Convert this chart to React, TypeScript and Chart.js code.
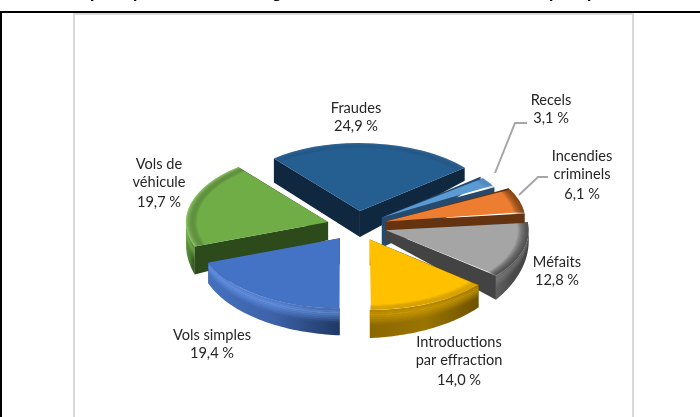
import { useEffect, useRef } from "react";
import { Chart, registerables } from "chart.js";

Chart.register(...registerables);

// Values, clockwise from the bottom of the pie
const categories = ["Vols simples", "Vols de véhicule", "Fraudes", "Recels", "Incendies criminels", "Méfaits", "Introductions par effraction"];
const shares = [19.4, 19.7, 24.9, 3.1, 6.1, 12.8, 14.0];
const shareLabels = ["19,4 %", "19,7 %", "24,9 %", "3,1 %", "6,1 %", "12,8 %", "14,0 %"];
const labelLines = [["Vols simples"], ["Vols de", "véhicule"], ["Fraudes"], ["Recels"], ["Incendies", "criminels"], ["Méfaits"], ["Introductions", "par effraction"]];

// Only the descenders of the cropped title survive in the picture
const titleGlyphs = ["p", "p", "g", "p", "p"];
const titleGlyphX = [95, 138, 277, 554, 592];

// Styles
const topColors = ["#4472C4", "#70AD47", "#255E91", "#5B9BD5", "#ED7D31", "#A5A5A5", "#FFC000"];
const sideColors = ["#1f3864", "#2d4a1b", "#10283f", "#254a6e", "#65330f", "#434343", "#6e5300"];
const bandStops = [
  ["#4470bd", "#3d62a8", "#1f3864"],
  ["#5f9440", "#4a7a30", "#2d4a1b"],
  ["#10283f", "#10283f", "#10283f"],
  ["#254a6e", "#254a6e", "#254a6e"],
  ["#8a4a1b", "#7a3f15", "#65330f"],
  ["#5f5f5f", "#4a4a4a", "#434343"],
  ["#8a6800", "#9a7400", "#6e5300"],
];
const bandHighlights = ["#6d9bee", "#84c05a", "#1b4468", "#3b6a96", "#a8581f", "#7d7d7d", "#d9a300"];
const rimColors = ["rgba(68,114,196,0)", "rgba(150,205,110,0.8)", "rgba(70,120,170,0.35)", "rgba(60,110,160,0.3)", "rgba(110,55,15,0.8)", "rgba(70,70,70,0.9)", "rgba(190,140,0,0.45)"];
// The source's perspective makes near slices look larger than far ones
const sliceRadii = [140, 142, 136, 128, 140, 143, 141];
// Wall height at the arc's start, at the vertex, at the arc's end
const wallDepths = [
  [27, 26, 21],
  [28, 18, 10],
  [24, 26, 13],
  [5, 30, 8],
  [6, 12, 12],
  [8, 10, 24],
  [23, 26, 28],
];
// Label centres (x, first line y) by category
const labelAnchors = [[212, 335], [159, 164], [356, 108], [551, 100], [582, 156], [557, 262], [459, 342]];
const leaderLines = [
  [[495, 173], [515, 123], [527, 123]],
  [[519, 195], [538, 177], [548, 177]],
];

const BASE_RADIUS = 135;
const EXPLODE = 30;
const FLATTEN = 0.5;
const CENTER_X = 357;
const CENTER_Y = 226;

const geometry = (arc: any) => {
  const p = arc.getProps(["x", "y", "startAngle", "endAngle"], true);
  const mid = (p.startAngle + p.endAngle) / 2;
  const vx = p.x + Math.cos(mid) * EXPLODE;
  const vy = CENTER_Y + Math.sin(mid) * EXPLODE * FLATTEN;
  return { ...p, mid, vx, vy };
};

const pie3d = {
  id: "pie3d",
  afterDatasetUpdate(chart: any) {
    // The arc element grows narrow exploded slices; undo that and apply each slice's radius
    chart.getDatasetMeta(0).data.forEach((arc: any, i: number) => {
      const sweep = arc.endAngle - arc.startAngle;
      arc.outerRadius = sliceRadii[i] - EXPLODE * (1 - Math.sin(Math.min(Math.PI, sweep)));
    });
  },
  beforeDatasetDraw(chart: any) {
    const ctx = chart.ctx;
    const arcs = chart.getDatasetMeta(0).data;
    const order = arcs.map((_: any, i: number) => i).sort((a: number, b: number) => geometry(arcs[a]).vy - geometry(arcs[b]).vy);
    for (const i of order) {
      const g = geometry(arcs[i]);
      const r = sliceRadii[i];
      const [ds, dv, de] = wallDepths[i];
      const px = (ang: number) => g.vx + Math.cos(ang) * r;
      const py = (ang: number) => g.vy + Math.sin(ang) * r * FLATTEN;
      ctx.fillStyle = sideColors[i];
      for (const [ang, d] of [[g.startAngle, ds], [g.endAngle, de]]) {
        ctx.beginPath();
        ctx.moveTo(g.vx, g.vy);
        ctx.lineTo(px(ang), py(ang));
        ctx.lineTo(px(ang), py(ang) + d);
        ctx.lineTo(g.vx, g.vy + dv);
        ctx.closePath();
        ctx.fill();
      }
      // Curved outer wall: only the part that faces the viewer
      const steps = 48;
      const depthAt = (ang: number) => ds + ((ang - g.startAngle) / (g.endAngle - g.startAngle)) * (de - ds);
      const visible: number[] = [];
      for (let s = 0; s <= steps; s++) {
        const ang = g.startAngle + ((g.endAngle - g.startAngle) * s) / steps;
        if (Math.sin(ang) > -0.02) visible.push(ang);
      }
      if (visible.length > 1) {
        const band = (t0: number, t1: number, fill: any, alpha = 1) => {
          ctx.beginPath();
          visible.forEach((ang, k) => {
            const y = py(ang) + depthAt(ang) * t0;
            if (k === 0) ctx.moveTo(px(ang), y);
            else ctx.lineTo(px(ang), y);
          });
          for (let k = visible.length - 1; k >= 0; k--) {
            const ang = visible[k];
            ctx.lineTo(px(ang), py(ang) + depthAt(ang) * t1);
          }
          ctx.closePath();
          ctx.globalAlpha = alpha;
          ctx.fillStyle = fill;
          ctx.fill();
          ctx.globalAlpha = 1;
        };
        const xs = visible.map(px);
        const grad = ctx.createLinearGradient(Math.min(...xs), 0, Math.max(...xs), 0);
        const stops = bandStops[i];
        const leftIsStart = px(visible[0]) < px(visible[visible.length - 1]);
        const seq = leftIsStart ? [...stops].reverse() : stops;
        seq.forEach((c, k) => grad.addColorStop(k / (seq.length - 1), c));
        band(0, 1, grad);
        // Soft bevel highlight just under the top face
        const strips = 8;
        for (let s = 0; s < strips; s++) {
          const t0 = (s / strips) * 0.55;
          const t1 = ((s + 1) / strips) * 0.55;
          const peak = 1 - Math.abs((s + 0.5) / strips - 0.3) / 0.7;
          band(t0, t1, bandHighlights[i], Math.max(0, peak) * 0.75);
        }
      }
    }
    // Everything the library draws next is flattened about the pie's centre
    ctx.save();
    ctx.translate(0, CENTER_Y);
    ctx.scale(1, FLATTEN);
    ctx.translate(0, -CENTER_Y);
  },
  afterDatasetDraw(chart: any) {
    const ctx = chart.ctx;
    const arcs = chart.getDatasetMeta(0).data;
    arcs.forEach((arc: any, i: number) => {
      const g = geometry(arc);
      const r = sliceRadii[i];
      const cx = g.vx;
      const cy = CENTER_Y + Math.sin(g.mid) * EXPLODE;
      const grad = ctx.createRadialGradient(cx, cy, r * 0.92, cx, cy, r);
      grad.addColorStop(0, "rgba(0,0,0,0)");
      grad.addColorStop(1, rimColors[i]);
      ctx.beginPath();
      ctx.moveTo(cx, cy);
      ctx.arc(cx, cy, r, g.startAngle, g.endAngle);
      ctx.closePath();
      ctx.fillStyle = grad;
      ctx.fill();
    });
    ctx.restore();
  },
  afterDraw(chart: any) {
    const ctx = chart.ctx;
    ctx.save();
    ctx.fillStyle = "#000";
    ctx.font = "bold 17px 'Liberation Sans'";
    ctx.textAlign = "center";
    ctx.textBaseline = "alphabetic";
    titleGlyphs.forEach((t, i) => ctx.fillText(t, titleGlyphX[i], -2.5));
    ctx.strokeStyle = "#a6a6a6";
    ctx.lineWidth = 2;
    for (const line of leaderLines) {
      ctx.beginPath();
      line.forEach(([x, y], k) => (k === 0 ? ctx.moveTo(x, y) : ctx.lineTo(x, y)));
      ctx.stroke();
    }
    ctx.fillStyle = "#262626";
    ctx.font = "14.6px Lato";
    ctx.textAlign = "center";
    ctx.textBaseline = "middle";
    categories.forEach((_, i) => {
      const [x, y] = labelAnchors[i];
      const lines = [...labelLines[i], shareLabels[i]];
      lines.forEach((t, k) => ctx.fillText(t, x, y + k * 18 + (k === 2 ? 2 : 0)));
    });
    ctx.restore();
  },
};

export default function App() {
  const ref = useRef<HTMLCanvasElement>(null);
  useEffect(() => {
    const chart = new Chart(ref.current as HTMLCanvasElement, {
      type: "pie",
      data: {
        labels: categories,
        datasets: [{ data: shares, backgroundColor: topColors, borderWidth: 0, offset: EXPLODE * 4 }],
      },
      options: {
        animation: false,
        responsive: false,
        radius: BASE_RADIUS,
        rotation: 180,
        layout: { padding: { left: CENTER_X * 2 - 700, top: CENTER_Y * 2 - 417 } },
        plugins: { legend: { display: false }, tooltip: { enabled: false }, title: { display: false } },
      } as any,
      plugins: [pie3d],
    });
    return () => chart.destroy();
  }, []);
  return (
    <div style={{ position: "absolute", left: 0, top: 0, width: 700, height: 417, overflow: "hidden", background: "#fff" }}>
      <div style={{ position: "absolute", left: 0, top: 11, width: 700, height: 2, background: "#000" }} />
      <div style={{ position: "absolute", left: 0, top: 11, width: 2, height: 406, background: "#000" }} />
      <div style={{ position: "absolute", left: 73, top: 13, width: 557, height: 404, borderLeft: "2px solid #d9d9d9", borderRight: "2px solid #d9d9d9", borderTop: "2px solid #d9d9d9" }} />
      <canvas ref={ref} width={700} height={417} style={{ position: "absolute", left: 0, top: 0 }} />
    </div>
  );
}
